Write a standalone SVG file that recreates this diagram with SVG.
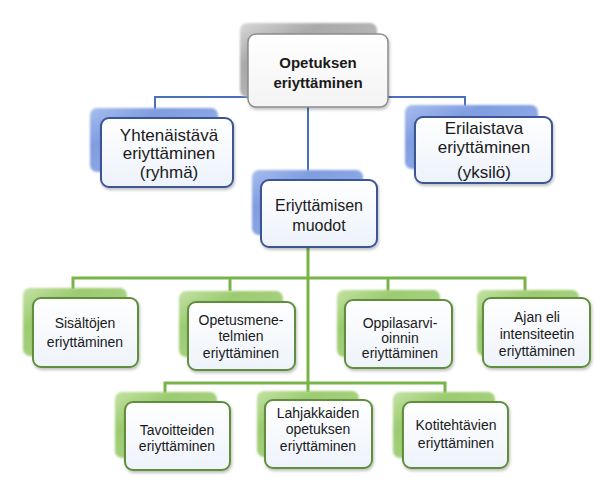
<svg xmlns="http://www.w3.org/2000/svg" width="604" height="490" viewBox="0 0 604 490">
<style>
text{font-family:"Liberation Sans",Arial,sans-serif;fill:#1a1a1a;text-anchor:middle}
.big{font-size:17px}
.mid{font-size:16px}
.sm{font-size:14px}
.top{font-size:15px;font-weight:bold}
.fb{fill:url(#fblue);stroke:#3a5597;stroke-width:2}
.fg{fill:url(#fgreen);stroke:#5f8f3c;stroke-width:2}
.fgr{fill:url(#fgray);stroke:#8c8c8c;stroke-width:1.5}
.sb{fill:url(#sblue);filter:url(#soft)}
.sg{fill:url(#sgreen);filter:url(#soft)}
.sgr{fill:url(#sgray);filter:url(#soft)}
.lb{stroke:#4a6fbf;stroke-width:2;fill:none}
.lg{stroke:#78b448;stroke-width:3;fill:none}
</style>
<defs>
<filter id="soft" x="-10%" y="-10%" width="120%" height="120%"><feGaussianBlur stdDeviation="0.8"/></filter>
<filter id="ds" x="-10%" y="-10%" width="125%" height="130%"><feDropShadow dx="1" dy="2" stdDeviation="1.5" flood-color="#000" flood-opacity="0.25"/></filter>
<linearGradient id="sblue" x1="0" y1="0" x2="1" y2="1"><stop offset="0" stop-color="#a9bdee"/><stop offset="0.3" stop-color="#7f9de0"/><stop offset="1" stop-color="#9fb6ec"/></linearGradient>
<linearGradient id="sgreen" x1="0" y1="0" x2="1" y2="1"><stop offset="0" stop-color="#c4e2a4"/><stop offset="0.3" stop-color="#9ccb70"/><stop offset="1" stop-color="#b5d994"/></linearGradient>
<linearGradient id="sgray" x1="0" y1="0" x2="1" y2="1"><stop offset="0" stop-color="#d8d8d8"/><stop offset="0.3" stop-color="#a9a9a9"/><stop offset="1" stop-color="#c8c8c8"/></linearGradient>
<linearGradient id="fblue" x1="0" y1="0" x2="0" y2="1"><stop offset="0" stop-color="#ffffff"/><stop offset="1" stop-color="#edf2fb"/></linearGradient>
<linearGradient id="fgreen" x1="0" y1="0" x2="0" y2="1"><stop offset="0" stop-color="#ffffff"/><stop offset="1" stop-color="#eef3fb"/></linearGradient>
<linearGradient id="fgray" x1="0" y1="0" x2="0" y2="1"><stop offset="0" stop-color="#ffffff"/><stop offset="1" stop-color="#f3f3f3"/></linearGradient>
</defs>

<g id="connectors">
<path class="lb" d="M155 110 V97 H465 V106"/>
<path class="lb" d="M308 107 V171"/>
<path class="lg" d="M308 247 V392"/>
<path class="lg" d="M73 289 V278 H525 V291"/>
<path class="lg" d="M230 291 V278"/>
<path class="lg" d="M388 291 V278"/>
<path class="lg" d="M165 393 V383 H445 V393"/>
</g>

<g id="n-opetuksen">
<rect class="sgr" x="240" y="23" width="137" height="74" rx="7"/>
<rect class="fgr" x="248" y="34" width="140" height="73" rx="8" filter="url(#ds)"/>
<text class="top" x="318" y="68">Opetuksen</text>
<text class="top" x="318" y="88">eriyttäminen</text>
</g>

<g id="n-yhtenaistava">
<rect class="sb" x="90" y="108" width="128" height="64" rx="7"/>
<rect class="fb" x="101" y="118" width="132" height="69" rx="8" filter="url(#ds)"/>
<text class="big" x="169" y="141">Yhtenäistävä</text>
<text class="big" x="169" y="159">eriyttäminen</text>
<text class="big" x="169" y="178">(ryhmä)</text>
</g>

<g id="n-erilaistava">
<rect class="sb" x="405" y="105" width="133" height="64" rx="7"/>
<rect class="fb" x="415" y="117" width="137" height="66" rx="8" filter="url(#ds)"/>
<text class="big" x="484" y="134">Erilaistava</text>
<text class="big" x="484" y="153">eriyttäminen</text>
<text class="big" x="484" y="178">(yksilö)</text>
</g>

<g id="n-muodot">
<rect class="sb" x="252" y="170" width="111" height="65" rx="7"/>
<rect class="fb" x="261" y="180" width="116" height="67" rx="8" filter="url(#ds)"/>
<text class="mid" x="319" y="211">Eriyttämisen</text>
<text class="mid" x="319" y="231">muodot</text>
</g>

<g id="n-sisaltojen">
<rect class="sg" x="23" y="288" width="104" height="68" rx="7"/>
<rect class="fg" x="33" y="298" width="105" height="69" rx="8" filter="url(#ds)"/>
<text class="sm" x="85" y="328">Sisältöjen</text>
<text class="sm" x="85" y="347">eriyttäminen</text>
</g>

<g id="n-opetusmenetelmien">
<rect class="sg" x="179" y="291" width="104" height="66" rx="7"/>
<rect class="fg" x="188" y="302" width="107" height="68" rx="8" filter="url(#ds)"/>
<text class="sm" x="241" y="325">Opetusmene-</text>
<text class="sm" x="241" y="341">telmien</text>
<text class="sm" x="241" y="358">eriyttäminen</text>
</g>

<g id="n-oppilasarvioinnin">
<rect class="sg" x="337" y="290" width="103" height="67" rx="7"/>
<rect class="fg" x="345" y="300" width="107" height="68" rx="8" filter="url(#ds)"/>
<text class="sm" x="400" y="328">Oppilasarvi-</text>
<text class="sm" x="400" y="343">oinnin</text>
<text class="sm" x="400" y="358">eriyttäminen</text>
</g>

<g id="n-ajan">
<rect class="sg" x="477" y="290" width="102" height="66" rx="7"/>
<rect class="fg" x="483" y="298" width="107" height="69" rx="8" filter="url(#ds)"/>
<text class="sm" x="537" y="322">Ajan eli</text>
<text class="sm" x="537" y="339">intensiteetin</text>
<text class="sm" x="537" y="356">eriyttäminen</text>
</g>

<g id="n-tavoitteiden">
<rect class="sg" x="115" y="392" width="102" height="66" rx="7"/>
<rect class="fg" x="125" y="402" width="105" height="68" rx="8" filter="url(#ds)"/>
<text class="sm" x="177" y="435">Tavoitteiden</text>
<text class="sm" x="177" y="451">eriyttäminen</text>
</g>

<g id="n-lahjakkaiden">
<rect class="sg" x="257" y="391" width="102" height="66" rx="7"/>
<rect class="fg" x="265" y="400" width="107" height="68" rx="8" filter="url(#ds)"/>
<text class="sm" x="318" y="418">Lahjakkaiden</text>
<text class="sm" x="318" y="434">opetuksen</text>
<text class="sm" x="318" y="451">eriyttäminen</text>
</g>

<g id="n-kotitehtavien">
<rect class="sg" x="393" y="392" width="102" height="66" rx="7"/>
<rect class="fg" x="403" y="402" width="105" height="66" rx="8" filter="url(#ds)"/>
<text class="sm" x="456" y="430">Kotitehtävien</text>
<text class="sm" x="456" y="448">eriyttäminen</text>
</g>
</svg>
